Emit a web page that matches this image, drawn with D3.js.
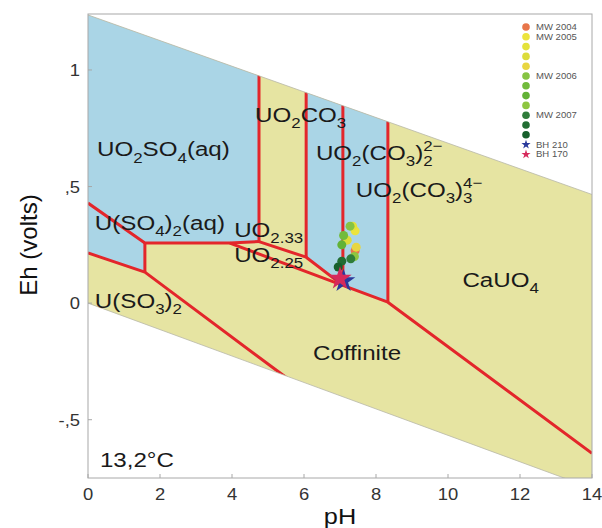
<!DOCTYPE html>
<html>
<head>
<meta charset="utf-8">
<script src="https://cdn.jsdelivr.net/npm/d3@7"></script>
<style>
  body { margin: 0; background: #fff; }
  text { font-family: "Liberation Sans", Arial, sans-serif; }
</style>
</head>
<body>
<div class="canvas"></div>
<script>
// axis ticks
const xTicks = [0, 2, 4, 6, 8, 10, 12, 14];
const yTicks = [1, 0.5, 0, -0.5];
const yTickLabels = ['1', ',5', '0', '-,5'];

// water stability limits [pH, Eh]
const waterTop = [[0, 1.236], [14, 0.466]];
const waterBottom = [[0, 0], [14, -0.794]];

// blue (aqueous) fields
const blueFields = [
    [[0, 1.3], [4.75, 1.3], [4.75, 0.264], [1.58, 0.258], [0, 0.429]],
    [[0, 0.429], [1.58, 0.258], [1.58, 0.133], [0, 0.215]],
    [[6.06, 1.3], [8.33, 1.3], [8.33, 0.004], [7.08, 0.076], [6.06, 0.197]]
];

// red phase boundaries
const boundaries = [
    [[0, 0.429], [1.58, 0.258], [3.94, 0.2575], [4.75, 0.264]],
    [[4.75, 1.3], [4.75, 0.264]],
    [[4.75, 0.264], [6.06, 0.197], [7.08, 0.076]],
    [[6.06, 1.3], [6.06, 0.197]],
    [[7.08, 1.3], [7.08, 0.076]],
    [[8.33, 1.3], [8.33, 0.004]],
    [[3.94, 0.2575], [7.08, 0.076], [8.33, 0.004], [14, -0.644]],
    [[1.58, 0.258], [1.58, 0.133]],
    [[0, 0.215], [1.58, 0.133], [5.6, -0.33]]
];

// field labels: [pH, Eh, parts]  (n = normal, b = subscript, p = superscript over the subscript)
const fieldLabels = [
    [0.25, 0.63, [['UO', 'n'], ['2', 'b'], ['SO', 'n'], ['4', 'b'], ['(aq)', 'n']]],
    [0.19, 0.313, [['U(SO', 'n'], ['4', 'b'], [')', 'n'], ['2', 'b'], ['(aq)', 'n']]],
    [4.64, 0.777, [['UO', 'n'], ['2', 'b'], ['CO', 'n'], ['3', 'b']]],
    [6.33, 0.614, [['UO', 'n'], ['2', 'b'], ['(CO', 'n'], ['3', 'b'], [')', 'n'], ['2', 'b'], ['2−', 'p']]],
    [7.44, 0.455, [['UO', 'n'], ['2', 'b'], ['(CO', 'n'], ['3', 'b'], [')', 'n'], ['3', 'b'], ['4−', 'p']]],
    [4.06, 0.283, [['UO', 'n'], ['2.33', 'b']]],
    [4.06, 0.176, [['UO', 'n'], ['2.25', 'b']]],
    [0.19, -0.021, [['U(SO', 'n'], ['3', 'b'], [')', 'n'], ['2', 'b']]],
    [10.4, 0.069, [['CaUO', 'n'], ['4', 'b']]],
    [6.25, -0.245, [['Coffinite', 'n']]],
    [0.33, -0.704, [['13,2°C', 'n']]]
];

// samples
const sampleNames = ['MW 2004', 'MW 2005', '', '', '', 'MW 2006', '', '', '', 'MW 2007', '', '', 'BH 210', 'BH 170'];
const samplePH = [7.42, 7.42, 7.35, 7.2, 7.45, 7.28, 7.1, 7.05, 7.4, 7.3, 7.05, 6.95, 7.1, 7.0];
const sampleEh = [0.225, 0.31, 0.33, 0.27, 0.24, 0.33, 0.29, 0.25, 0.2, 0.19, 0.18, 0.155, 0.095, 0.105];
const sampleColors = ['#e8764a', '#ece43c', '#e4e23a', '#dcdc3a', '#e8d640', '#86c443', '#72bb3c', '#62b236', '#8ec640',
    '#2f7d3a', '#226e33', '#17602c', '#2a3a9c', '#d62a5c'];
const sampleShapes = ['c', 'c', 'c', 'c', 'c', 'c', 'c', 'c', 'c', 'c', 'c', 'c', 's', 's'];

const blue = '#aad5e6';
const yellow = '#e6e4a2';
const red = '#e3262b';
const sx = 1.15;

const svg = d3.select('.canvas').append('svg')
    .attr('width', 602)
    .attr('height', 528);

const x = d3.scaleLinear().domain([0, 14]).range([88, 592]);
const y = d3.scaleLinear().domain([-0.75, 1.24]).range([478, 14]);

const line = d3.line().x(d => x(d[0])).y(d => y(d[1]));

// water stability polygon, clipped to plot box
const waterPoly = waterTop.concat(waterBottom.slice().reverse());

const defs = svg.append('defs');
defs.append('clipPath').attr('id', 'box')
    .append('rect')
    .attr('x', x(0)).attr('y', y(1.24))
    .attr('width', x(14) - x(0)).attr('height', y(-0.75) - y(1.24));
defs.append('clipPath').attr('id', 'water')
    .append('path').attr('d', line(waterPoly) + 'Z');

const plot = svg.append('g').attr('clip-path', 'url(#box)');

plot.append('path')
    .attr('d', line(waterPoly) + 'Z')
    .attr('fill', yellow);

const fields = plot.append('g').attr('clip-path', 'url(#water)');

fields.selectAll('path.blue')
    .data(blueFields)
    .enter().append('path')
    .attr('class', 'blue')
    .attr('d', d => line(d) + 'Z')
    .attr('fill', blue);

// water limits
plot.selectAll('path.h2o')
    .data([waterTop, waterBottom])
    .enter().append('path')
    .attr('class', 'h2o')
    .attr('d', line)
    .attr('fill', 'none')
    .attr('stroke', '#b8b8a8')
    .attr('stroke-width', 0.8);

fields.selectAll('path.bound')
    .data(boundaries)
    .enter().append('path')
    .attr('class', 'bound')
    .attr('d', line)
    .attr('fill', 'none')
    .attr('stroke', red)
    .attr('stroke-width', 3)
    .attr('stroke-linejoin', 'round');

// rich text helper
const addText = (g, px, py, parts, size, color) => {
    const t = g.append('text')
        .attr('transform', `translate(${px},${py}) scale(${sx},1)`)
        .attr('font-size', size)
        .attr('fill', color);
    let cur = 0;
    let lastSub = 0;
    parts.forEach(([s, k]) => {
        const target = k === 'b' ? size * 0.3 : k === 'p' ? -size * 0.45 : 0;
        const ts = t.append('tspan')
            .attr('dy', target - cur)
            .attr('font-size', k === 'n' ? size : size * 0.7)
            .text(s);
        // stack superscript over the preceding subscript
        if (k === 'p') ts.attr('dx', -lastSub);
        lastSub = k === 'b' ? s.length * size * 0.7 * 0.556 : 0;
        cur = target;
    });
    return t;
};

const labels = svg.append('g');
fieldLabels.forEach(([ph, eh, parts]) => {
    addText(labels, x(ph), y(eh), parts, 21, '#1a1a1a');
});

// samples in the plot
const star = d3.symbol().type(d3.symbolStar);
const pts = svg.append('g');
sampleNames.forEach((name, i) => {
    if (sampleShapes[i] === 'c') {
        pts.append('circle')
            .attr('cx', x(samplePH[i]))
            .attr('cy', y(sampleEh[i]))
            .attr('r', 4.5)
            .attr('fill', sampleColors[i]);
    }
});
pts.selectAll('path.star')
    .data(sampleNames.map((n, i) => i).filter(i => sampleShapes[i] === 's'))
    .enter().append('path')
    .attr('class', 'star')
    .attr('d', star.size(170)())
    .attr('transform', i => `translate(${x(samplePH[i])},${y(sampleEh[i])})`)
    .attr('fill', i => sampleColors[i]);

// legend
const legend = svg.append('g').attr('transform', 'translate(526, 27)');
sampleNames.forEach((name, i) => {
    const ly = i * 9.8;
    if (sampleShapes[i] === 'c') {
        legend.append('circle').attr('cx', 0).attr('cy', ly).attr('r', 3.8).attr('fill', sampleColors[i]);
    } else {
        legend.append('path').attr('d', star.size(26)())
            .attr('transform', `translate(0,${ly})`).attr('fill', sampleColors[i]);
    }
    if (name) {
        addText(legend, 10, ly + 3, [[name, 'n']], 8.3, '#555');
    }
});

// frame and axes
svg.append('rect')
    .attr('x', x(0)).attr('y', y(1.24))
    .attr('width', x(14) - x(0)).attr('height', y(-0.75) - y(1.24))
    .attr('fill', 'none').attr('stroke', '#a8a8a8').attr('stroke-width', 1);

const axes = svg.append('g');
xTicks.forEach(t => {
    axes.append('line')
        .attr('x1', x(t)).attr('x2', x(t))
        .attr('y1', y(-0.75)).attr('y2', y(-0.75) - 4)
        .attr('stroke', '#a8a8a8');
    addText(axes, x(t), 500, [[t, 'n']], 16, '#333').attr('text-anchor', 'middle');
});
yTicks.forEach((t, i) => {
    axes.append('line')
        .attr('x1', x(0)).attr('x2', x(0) + 4)
        .attr('y1', y(t)).attr('y2', y(t))
        .attr('stroke', '#a8a8a8');
    addText(axes, 80, y(t) + 6, [[yTickLabels[i], 'n']], 16, '#333').attr('text-anchor', 'end');
});

addText(svg, 340, 524, [['pH', 'n']], 22, '#111').attr('text-anchor', 'middle');
svg.append('text')
    .attr('transform', 'translate(37,245) rotate(-90)')
    .attr('text-anchor', 'middle')
    .attr('font-size', 24)
    .attr('fill', '#111')
    .text('Eh (volts)');
</script>
</body>
</html>
